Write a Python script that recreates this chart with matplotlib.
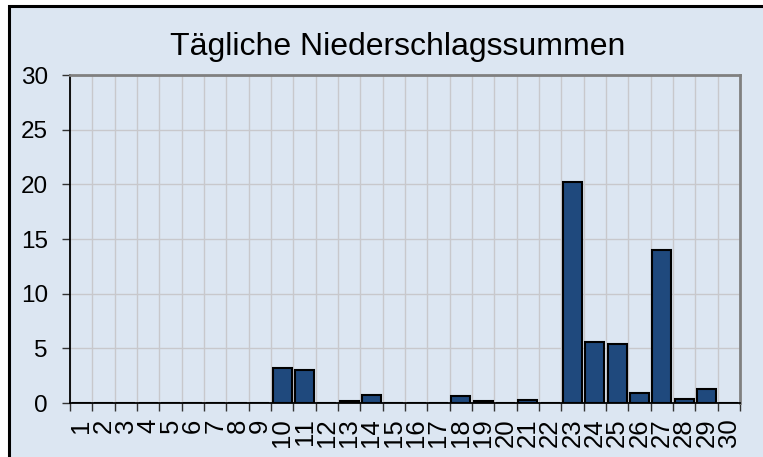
import matplotlib
matplotlib.use('Agg')
import matplotlib.pyplot as plt
import matplotlib.patches
import numpy as np

# daily precipitation sums (mm)
days = list(range(1, 31))
rain = [0, 0, 0, 0, 0, 0, 0, 0, 0, 3.2,
        3.0, 0, 0.2, 0.7, 0, 0, 0, 0.6, 0.2, 0,
        0.3, 0, 20.2, 5.6, 5.4, 0.9, 14.0, 0.35, 1.3, 0]
y_ticks = [0, 5, 10, 15, 20, 25, 30]
title = 'Tägliche Niederschlagssummen'

BG = '#dce6f2'
BAR = '#1f497d'
GRID = '#c8c8cc'

plt.rcParams['font.family'] = ['Liberation Sans', 'DejaVu Sans']

fig = plt.figure(figsize=(7.63, 4.57), dpi=100)
fig.patch.set_facecolor('white')

# light blue chart area with a black frame (cropped at right/bottom)
frame = matplotlib.patches.Rectangle((9 / 763, -0.05), 1.1, 1 - 5.5 / 457 + 0.05,
                                     transform=fig.transFigure, facecolor=BG,
                                     edgecolor='black', linewidth=2.2, zorder=-10)
fig.patches.append(frame)

ax = fig.add_axes([70 / 763, 1 - 403 / 457, 670 / 763, 328 / 457])
ax.set_facecolor(BG)

ax.bar(days, rain, width=0.85, color=BAR, edgecolor='black', linewidth=1.5, zorder=3)

ax.set_xlim(0.5, 30.5)
ax.set_ylim(0, 30)

# labels under each day, tick marks on the category boundaries
ax.set_xticks(days)
ax.set_xticklabels([str(d) for d in days], rotation=90, fontsize=18.5)
ax.tick_params(axis='x', which='major', length=0, pad=11)
ax.set_xticks(np.arange(0.5, 31, 1), minor=True)
ax.tick_params(axis='x', which='minor', length=6, width=1, color='#333333', direction='out')

ax.set_yticks(y_ticks)
ax.tick_params(axis='y', labelsize=17.5, length=6, width=1, color='#333333', direction='out', pad=10)

ax.grid(True, axis='x', which='minor', color=GRID, linewidth=1, zorder=0)
ax.grid(True, axis='y', which='major', color=GRID, linewidth=1, zorder=0)
ax.set_axisbelow(True)

ax.spines['left'].set_color('black')
ax.spines['bottom'].set_color('black')
ax.spines['left'].set_linewidth(1.3)
ax.spines['bottom'].set_linewidth(1.3)
ax.spines['top'].set_color('#808080')
ax.spines['right'].set_color('#808080')
ax.spines['top'].set_linewidth(2)
ax.spines['right'].set_linewidth(2)

fig.text(398 / 763, 1 - 47 / 457, title, ha='center', va='center', fontsize=23)

fig.savefig('out.png', dpi=100, facecolor=fig.get_facecolor())
